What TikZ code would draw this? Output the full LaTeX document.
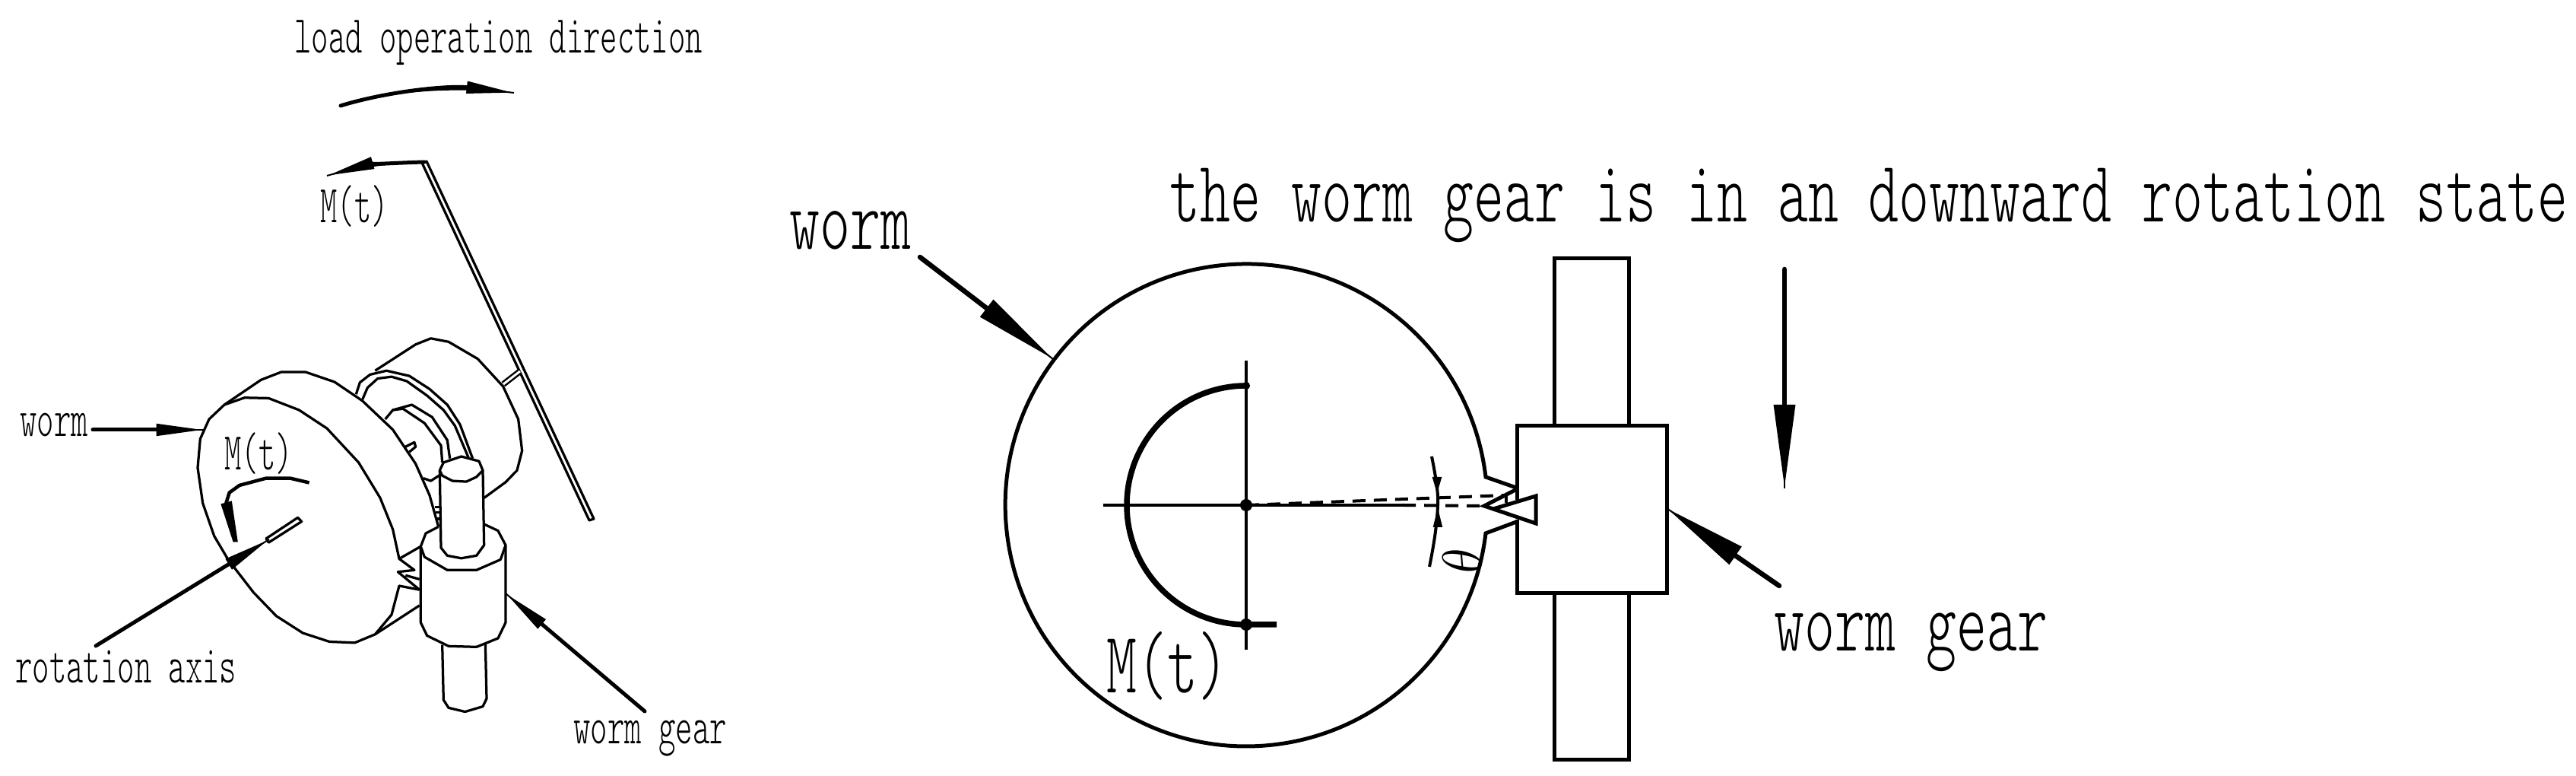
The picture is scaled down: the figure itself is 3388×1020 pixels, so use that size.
\documentclass[tikz,border=0pt]{standalone}
\usepackage{amsmath,amssymb}
\usetikzlibrary{arrows.meta}
\tikzset{
  smalltext/.style={inner sep=0pt,anchor=base west,xscale=0.608,font=\ttfamily\fontseries{l}\fontsize{14}{16}\selectfont},
  largetext/.style={inner sep=0pt,anchor=base west,xscale=0.662,font=\ttfamily\fontseries{l}\fontsize{23}{26}\selectfont},
  thinpart/.style={color=black,line width=0.65pt,line join=round},
  heavypart/.style={color=black,line width=1pt,line join=miter},
  plateline/.style={color=black,double,double distance=0.6pt,line width=0.5pt,line join=miter},
  smallarrow/.style={color=black,line width=1pt,line cap=round,preaction={draw,arrows=-},-{Triangle[length=12.5pt,width=3pt]}},
  largearrow/.style={color=black,line width=1.3pt,line cap=round,preaction={draw,arrows=-},-{Triangle[length=22pt,width=5.4pt]}},
  dashline/.style={color=black,line width=0.8pt,dash pattern=on 3.4pt off 2.2pt}
}
\begin{document}
\begin{tikzpicture}[x=0.2pt,y=-0.2pt]
\useasboundingbox (0,0) rectangle (3388,1020);
% Labels of the left sketch
\node[smalltext] (loadlabel) at (387,70) {load operation direction};
\node[smalltext] (momentupper) at (421,293) {M(t)};
\node[smalltext] (wormsmall) at (26,574) {worm};
\node[smalltext] (momentwheel) at (295,618) {M(t)};
\node[smalltext] (axislabel) at (20,898) {rotation axis};
\node[smalltext] (gearsmall) at (754,978) {worm gear};
% Labels of the right sketch
\node[largetext] (statelabel) at (1538,292) {the worm gear is in an downward rotation state};
\node[largetext] (wormlarge) at (1038,328) {worm};
\node[largetext] (gearlarge) at (2333,856) {worm gear};
\node[largetext] (momentlarge) at (1455,911) {M(t)};
\node[rotate=95,font=\fontsize{15}{17}\selectfont] (thetalabel) at (1923,737) {$\theta$};
% Left sketch: end points
\coordinate (loadstart) at (448,139);
\coordinate (loadtip) at (676,122);
\coordinate (platetop) at (558,213);
\coordinate (momenttip) at (430,231);
\coordinate (wormstart) at (122,565);
\coordinate (wormtip) at (268,565);
\coordinate (axisstart) at (126,849);
\coordinate (axistip) at (354,709);
\coordinate (gearstart) at (848,935);
\coordinate (geartip) at (665,780);
\coordinate (stubfoot) at (662,505);
\coordinate (stubhead) at (684,488);
% Left sketch: arrows and plate
\draw[smallarrow] (loadstart) .. controls (510,120) and (590,112) .. (loadtip);
\draw[thinpart] (platetop) -- (555,214) -- (775,684) -- (781,682) -- (561,212) -- cycle;
\draw[smallarrow] (platetop) .. controls (520,214) and (480,217) .. (momenttip);
\draw[plateline] (stubfoot) -- (stubhead);
\draw[smallarrow] (wormstart) -- (wormtip);
\draw[smallarrow] (axisstart) -- (axistip);
\draw[smallarrow] (gearstart) -- (geartip);
% Left sketch: worm wheel and worm gear, crop units
\begin{scope}[shift={(200,420)},x=0.06667pt,y=-0.06897pt]
\draw[thinpart] (285,325) -- (225,380) -- (190,455) -- (180,565) -- (200,700) -- (245,825) -- (300,915) -- (400,1040) -- (490,1130) -- (595,1195) -- (700,1228) -- (800,1232) -- (880,1200) -- (945,1125) -- (975,1015) -- (1055,1030);
\draw[thinpart] (285,325) -- (365,298) -- (460,300) -- (580,345) -- (690,415) -- (815,545) -- (900,680) -- (950,800) -- (975,912) -- (1035,955) -- (970,962) -- (1055,1030);
\draw[thinpart] (975,912) -- (1060,865);
\draw[thinpart] (1000,975) -- (1055,990);
\draw[thinpart] (880,1200) -- (1055,1090);
\draw[thinpart] (285,325) -- (430,230) -- (510,200) -- (605,200) -- (720,238) -- (830,310) -- (950,420) -- (1040,550) -- (1095,670) -- (1130,790);
% back disc
\draw[thinpart] (880,195) -- (1040,95) -- (1100,72) -- (1170,85) -- (1285,150) -- (1385,255) -- (1445,380) -- (1460,500) -- (1440,575) -- (1395,620) -- (1310,680);
\draw[thinpart] (805,285) -- (820,240) -- (860,210) -- (925,195) -- (1015,215) -- (1095,265) -- (1165,325) -- (1215,400) -- (1265,530);
\draw[thinpart] (830,305) -- (850,260) -- (890,225) -- (945,218) -- (1005,235) -- (1085,290) -- (1150,345) -- (1195,405) -- (1250,530);
\draw[thinpart] (920,380) -- (950,345) -- (1025,325) -- (1105,372) -- (1165,460) -- (1175,530);
\draw[thinpart] (950,345) -- (990,340) -- (1075,395) -- (1140,480) -- (1145,545);
\draw[thinpart] (1070,605) -- (1100,615) -- (1140,590);
\draw[thinpart] (1115,715) -- (1135,715);
\draw[thinpart] (1120,735) -- (1135,735);
\draw[thinpart] (1125,760) -- (1135,760);
\draw[thinpart] (1000,485) -- (1035,468) -- (1040,485) -- (1015,505);
% worm gear shaft and collar
\draw[thinpart] (1135,575) -- (1150,545) -- (1220,522) -- (1290,540) -- (1305,575) -- (1280,600) -- (1240,618) -- (1185,615) -- (1145,595) -- cycle;
\draw[thinpart] (1135,575) -- (1140,870) -- (1165,900) -- (1220,910) -- (1280,900) -- (1310,860) -- (1305,575);
\draw[thinpart] (1130,790) -- (1080,815) -- (1060,865) -- (1075,905) -- (1165,955) -- (1280,955) -- (1375,915) -- (1395,860) -- (1365,805) -- (1310,780);
\draw[thinpart] (1060,865) -- (1060,1155) -- (1085,1205) -- (1170,1245) -- (1280,1248) -- (1365,1215) -- (1395,1155) -- (1395,860);
\draw[thinpart] (1145,1240) -- (1150,1450) -- (1170,1480) -- (1235,1495) -- (1305,1475) -- (1320,1445) -- (1315,1235);
% rotation axis pin
\draw[thinpart] (450,835) -- (575,755) -- (590,770) -- (460,850) -- cycle;
% moment arrow on the wheel face
\draw[color=black,line width=0.9pt] (620,622) -- (545,605) -- (450,605) -- (345,632) -- (305,660) -- (292,700);
\filldraw[color=black] (275,705) -- (312,695) -- (335,845) -- (322,845) -- cycle;
\end{scope}
% Right sketch: end points
\coordinate (wheelcentre) at (1639,664);
\coordinate (notchupper) at (1954,627);
\coordinate (notchlower) at (1954,702);
\coordinate (toothupper) at (1997,642);
\coordinate (toothlower) at (1997,685);
\coordinate (wormtooth) at (1952,665);
\coordinate (wormtoothup) at (2020,652);
\coordinate (wormtoothlow) at (2020,688);
\coordinate (halftop) at (1639,507);
\coordinate (halfend) at (1679,821);
\coordinate (halfbottom) at (1639,821);
\coordinate (largewormstart) at (1210,338);
\coordinate (largewormtip) at (1385,472);
\coordinate (largegearstart) at (2340,770);
\coordinate (largegeartip) at (2192,668);
\coordinate (downstart) at (2347,354);
\coordinate (downtip) at (2347,642);
% Right sketch: wheel, centre lines, half circle
\draw[heavypart] (toothupper) -- (notchupper) arc[start angle=6.7,delta angle=346.6,radius=63.4pt] -- (toothlower);
\draw[color=black,line width=0.8pt] (1451,664) -- (1845,664);
\draw[color=black,line width=0.8pt] (1639,474) -- (1639,854);
\draw[color=black,line width=1.5pt] (halftop) arc[start angle=90,delta angle=180,radius=31.4pt] -- (halfend);
\filldraw[color=black] (wheelcentre) circle(1.4pt);
\filldraw[color=black] (halftop) circle(0.8pt);
\filldraw[color=black] (halfbottom) circle(1.4pt);
% Right sketch: angle marks
\draw[dashline] (wheelcentre) -- (1980,651);
\draw[dashline] (1845,664) -- (wormtooth);
\draw[color=black,line width=0.8pt] (1883,600) .. controls (1889,630) and (1892,650) .. (1891,664) .. controls (1890,690) and (1886,715) .. (1880,745);
\filldraw[color=black] (1885,628) -- (1895,628) -- (1890,645) -- cycle;
\filldraw[color=black] (1886,692) -- (1896,692) -- (1891,672) -- cycle;
% Right sketch: teeth and worm gear
\draw[heavypart] (toothupper) -- (wormtooth) -- (wormtoothlow) -- (wormtoothup) -- (1964,669);
\draw[color=black,line width=0.7pt] (1981,651) -- (1981,661);
\draw[heavypart] (1995,657) -- (1995,560) -- (2192,560) -- (2192,780) -- (1995,780) -- (1995,683);
\draw[heavypart] (2044,560) -- (2044,340) -- (2142,340) -- (2142,560);
\draw[heavypart] (2044,780) -- (2044,999) -- (2142,999) -- (2142,780);
% Right sketch: arrows
\draw[largearrow] (largewormstart) -- (largewormtip);
\draw[largearrow] (largegearstart) -- (largegeartip);
\draw[largearrow] (downstart) -- (downtip);
\end{tikzpicture}
\end{document}
